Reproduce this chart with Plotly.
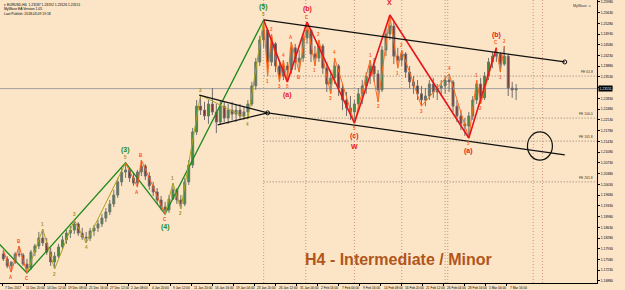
import plotly.graph_objects as go

# ---------------- data ----------------
# 12-hour candles (3 H4 bars each), prices in pips (x 1e-4)
first_open = 11776
high = [11789, 11769, 11750, 11782, 11802, 11779, 11760, 11789, 11809, 11848,
        11857, 11828, 11796, 11782, 11809, 11835, 11854, 11867, 11887, 11880,
        11861, 11848, 11861, 11871, 11887, 11906, 11926, 11952, 11985, 12024,
        12056, 12073, 12056, 12043, 12050, 12082, 12069, 12043, 12011, 11991,
        11965, 11946, 11968, 12007, 11991, 11968, 12024, 12082, 12187, 12278,
        12294, 12272, 12278, 12317, 12265, 12278, 12272, 12265, 12272, 12262,
        12265, 12258, 12278, 12337, 12415, 12487, 12539, 12513, 12493, 12467,
        12408, 12408, 12402, 12467, 12461, 12441, 12493, 12532, 12506, 12454,
        12474, 12461, 12402, 12376, 12415, 12395, 12330, 12304, 12291, 12278,
        12317, 12343, 12369, 12408, 12415, 12376, 12454, 12513, 12555, 12532,
        12448, 12441, 12434, 12389, 12356, 12343, 12324, 12317, 12343, 12350,
        12330, 12343, 12356, 12363, 12343, 12278, 12245, 12219, 12239, 12291,
        12343, 12350, 12369, 12415, 12434, 12448, 12434, 12454, 12428, 12337,
        12330]
low = [11753, 11730, 11717, 11743, 11766, 11737, 11714, 11724, 11769, 11792,
       11802, 11773, 11737, 11727, 11763, 11789, 11809, 11828, 11841, 11835,
       11822, 11812, 11818, 11835, 11848, 11864, 11880, 11903, 11929, 11959,
       11998, 12024, 12011, 11998, 11994, 12030, 12017, 11985, 11965, 11939,
       11919, 11906, 11910, 11952, 11939, 11923, 11932, 12001, 12056, 12164,
       12229, 12213, 12200, 12229, 12170, 12197, 12206, 12200, 12213, 12206,
       12213, 12213, 12216, 12258, 12311, 12389, 12448, 12356, 12389, 12369,
       12337, 12343, 12337, 12363, 12376, 12369, 12402, 12461, 12402, 12389,
       12402, 12363, 12304, 12298, 12330, 12291, 12245, 12226, 12213, 12203,
       12239, 12265, 12298, 12330, 12337, 12272, 12304, 12421, 12474, 12395,
       12382, 12389, 12350, 12317, 12298, 12278, 12258, 12258, 12278, 12285,
       12278, 12291, 12298, 12304, 12239, 12206, 12180, 12161, 12154, 12213,
       12265, 12265, 12278, 12343, 12382, 12402, 12369, 12389, 12291, 12285,
       12278]
close = [11760, 11737, 11750, 11776, 11773, 11743, 11730, 11782, 11802, 11828,
         11812, 11782, 11750, 11769, 11799, 11822, 11844, 11854, 11874, 11844,
         11831, 11828, 11851, 11861, 11874, 11893, 11913, 11939, 11968, 12011,
         12043, 12050, 12024, 12007, 12043, 12063, 12030, 11998, 11978, 11952,
         11929, 11919, 11955, 11985, 11952, 11939, 12011, 12066, 12174, 12258,
         12245, 12226, 12265, 12239, 12206, 12258, 12219, 12245, 12232, 12245,
         12226, 12239, 12265, 12324, 12402, 12474, 12506, 12402, 12461, 12389,
         12356, 12389, 12376, 12448, 12402, 12415, 12480, 12506, 12428, 12415,
         12454, 12382, 12330, 12350, 12389, 12317, 12278, 12252, 12239, 12265,
         12298, 12324, 12356, 12389, 12363, 12311, 12441, 12493, 12519, 12421,
         12408, 12428, 12369, 12337, 12324, 12298, 12278, 12291, 12330, 12304,
         12317, 12324, 12343, 12337, 12258, 12226, 12200, 12193, 12226, 12278,
         12330, 12285, 12356, 12402, 12421, 12428, 12395, 12421, 12317, 12311,
         12315]
last_price = 1.23151

x_labels = ["7 Dec 2017", "11 Dec 20:00", "14 Dec 12:00", "19 Dec 08:00", "21 Dec 16:00",
            "27 Dec 12:00", "2 Jan 08:00", "4 Jan 20:00", "9 Jan 12:00", "11 Jan 20:00",
            "16 Jan 16:00", "19 Jan 04:00", "23 Jan 20:00", "26 Jan 12:00", "31 Jan 00:00",
            "2 Feb 16:00", "7 Feb 04:00", "9 Feb 16:00", "14 Feb 08:00", "16 Feb 20:00",
            "21 Feb 12:00", "26 Feb 04:00", "28 Feb 16:00", "5 Mar 04:00", "7 Mar 16:00"]
bars_per_label = 16
bars_per_candle = 3

# wave paths: (candle index, 'H' high / 'L' low)
green_entry = (-10, 1.1844)
green_path = [(6, 'L'), (31, 'H'), (41, 'L'), (66, 'H')]
olive_paths = [[(6, 'L'), (10, 'H'), (13, 'L'), (18, 'H'), (21, 'L'), (31, 'H')],
               [(41, 'L'), (43, 'H'), (45, 'L'), (50, 'H'), (62, 'L'), (66, 'H')]]
red_small_paths = [[(0, 'H'), (2, 'L'), (4, 'H'), (6, 'L')],
                   [(31, 'H'), (34, 'L'), (35, 'H'), (41, 'L')]]
red_main_path = [(66, 'H'), (72, 'L'), (77, 'H'), (89, 'L'), (98, 'H'), (118, 'L'), (125, 'H')]
orange_paths = [[(66, 'H'), (67, 'L'), (68, 'H'), (70, 'L'), (71, 'H'), (72, 'L')],
                [(72, 'L'), (73, 'H'), (75, 'L'), (77, 'H')],
                [(77, 'H'), (79, 'L'), (80, 'H'), (83, 'L'), (84, 'H'), (89, 'L')],
                [(89, 'L'), (93, 'H'), (95, 'L'), (98, 'H')],
                [(98, 'H'), (100, 'L'), (101, 'H'), (106, 'L'), (113, 'H'), (118, 'L')],
                [(118, 'L'), (120, 'H'), (121, 'L'), (125, 'H'), (126, 'L'), (127, 'H')]]

# labels: (candle, side, text)
olive_labels = [(10, 'H', '1'), (13, 'L', '2'), (18, 'H', '3'), (21, 'L', '4'), (31, 'H', '5'),
                (43, 'H', '1'), (45, 'L', '2'), (50, 'H', '3'), (62, 'L', '4'), (66, 'H', '5')]
red_small_labels = [(2, 'L', 'A'), (4, 'H', 'B'), (6, 'L', 'C'),
                    (34, 'L', 'A'), (35, 'H', 'B'), (41, 'L', 'C')]
green_labels = [(31, 'H', '(3)'), (41, 'L', '(4)'), (66, 'H', '(5)')]
red_main_labels = [(72, 'L', '(a)'), (77, 'H', '(b)'), (89, 'L', '(c)'), (98, 'H', 'X'),
                   (118, 'L', '(a)'), (125, 'H', '(b)')]
orange_labels = [(67, 'L', '1'), (68, 'H', '2'), (70, 'L', '3'), (71, 'H', '4'), (72, 'L', '5'),
                 (73, 'H', 'A'), (75, 'L', 'B'), (77, 'H', 'C'),
                 (79, 'L', '1'), (80, 'H', '2'), (83, 'L', '3'), (84, 'H', '4'), (89, 'L', '5'),
                 (93, 'H', '1'), (95, 'L', '2'),
                 (100, 'L', '1'), (101, 'H', '2'), (106, 'L', '3'), (113, 'H', '4'), (118, 'L', '5'),
                 (120, 'H', '1'), (121, 'L', '2'), (125, 'H', 'C'), (126, 'L', '1'), (127, 'H', '2')]

# trend lines (bar index, price)
upper_channel_t, upper_channel_p = [199, 428], [1.2539, 1.2402]
lower_channel_t, lower_channel_p = [202, 428], [1.2236, 1.2099]
tri_upper_t, tri_upper_p = [150, 202], [1.2294, 1.2236]
tri_lower_t, tri_lower_p = [164, 202], [1.2197, 1.2236]

# Fibonacci expansion levels and time lines
fe_start = 199
fe_levels = [1.2356, 1.2219, 1.2144, 1.2011]
fe_names = ["FE 61.8", "FE 100.0", "FE 161.8", "FE 261.8"]
time_lines = [199, 231, 268, 304, 337, 339, 404, 411]
target_zone = dict(t0=399.6, t1=418.6, p0=1.2082, p1=1.2174)

# ---------------- figure ----------------
BG = '#FCE5C6'
FONT = 'Liberation Sans, Arial, sans-serif'
X_MIN, X_MAX = -1.52, 452.5
Y_MIN, Y_MAX = 1.16814, 1.2604

n = len(close)
xs = [bars_per_candle * k + 1 for k in range(n)]
opens = [first_open] + close[:-1]

fig = go.Figure()

# horizontal fib lines
for lvl, name in zip(fe_levels, fe_names):
    fig.add_shape(type='line', x0=fe_start, x1=X_MAX, y0=lvl, y1=lvl,
                  line=dict(color='#8a7d70', width=1, dash='1px,2px'), layer='below')
    fig.add_annotation(x=X_MAX - 1.5, y=lvl, text=name, showarrow=False, xanchor='right',
                       yanchor='bottom', font=dict(family=FONT, size=3.4, color='#333'))
# vertical time lines
for t in time_lines:
    fig.add_shape(type='line', x0=t, x1=t, y0=0, y1=1, yref='paper',
                  line=dict(color='#cf9575', width=1, dash='1px,2px'), layer='below')
# current price line
fig.add_shape(type='line', x0=X_MIN, x1=X_MAX, y0=last_price, y1=last_price,
              line=dict(color='#a0a0a0', width=1), layer='below')

fig.add_trace(go.Candlestick(
    x=xs, open=[v / 1e4 for v in opens], high=[v / 1e4 for v in high],
    low=[v / 1e4 for v in low], close=[v / 1e4 for v in close],
    increasing=dict(line=dict(color='#6d746d', width=1), fillcolor='#3d8f3d'),
    decreasing=dict(line=dict(color='#746a6a', width=1), fillcolor='#7c2c2c'),
    whiskerwidth=0, hoverinfo='skip', showlegend=False))


def pt(p):
    k, side = p
    return bars_per_candle * k + 1, (high[k] if side == 'H' else low[k]) / 1e4


def add_path(path, color, width, pre=None):
    pts = [pt(p) for p in path]
    if pre:
        pts = [pre] + pts
    fig.add_trace(go.Scatter(x=[a for a, b in pts], y=[b for a, b in pts], mode='lines',
                             line=dict(color=color, width=width), hoverinfo='skip',
                             showlegend=False))


add_path(green_path, '#1e8a1e', 1.3, pre=green_entry)
for pth in olive_paths:
    add_path(pth, '#a9a21f', 1)
for pth in red_small_paths:
    add_path(pth, '#ff5a1f', 1)
for pth in orange_paths:
    add_path(pth, '#ff6a1a', 1)
add_path(red_main_path, '#e8161b', 1.6)

for tt, pp in [(upper_channel_t, upper_channel_p), (lower_channel_t, lower_channel_p),
               (tri_upper_t, tri_upper_p), (tri_lower_t, tri_lower_p)]:
    fig.add_trace(go.Scatter(x=tt, y=pp, mode='lines', line=dict(color='#111', width=1.2),
                             hoverinfo='skip', showlegend=False))
fig.add_trace(go.Scatter(x=[tri_upper_t[-1], upper_channel_t[-1]],
                         y=[tri_upper_p[-1], upper_channel_p[-1]], mode='markers',
                         marker=dict(symbol='circle-open', size=4, color='#111', line=dict(width=1)),
                         hoverinfo='skip', showlegend=False))

fig.add_shape(type='circle', x0=target_zone['t0'], x1=target_zone['t1'],
              y0=target_zone['p0'], y1=target_zone['p1'], line=dict(color='#111', width=1.2))


def add_labels(labels, color, size, shift, bold=False):
    for k, side, txt in labels:
        x, y = pt((k, side))
        fig.add_annotation(x=x, y=y, text=('<b>%s</b>' % txt) if bold else txt, showarrow=False,
                           yshift=shift if side == 'H' else -shift,
                           font=dict(family=FONT, size=size, color=color))


add_labels(olive_labels, '#9a9020', 4.5, 5, True)
add_labels(red_small_labels, '#ff4a1a', 4.5, 5, True)
add_labels(orange_labels, '#ff5a1a', 4.5, 5, True)
add_labels(green_labels, '#1e8a1e', 7, 13, True)
add_labels(red_main_labels, '#e8161b', 7, 13, True)
kx, ky = pt((89, 'L'))
fig.add_annotation(x=kx, y=ky, text='<b>W</b>', showarrow=False, yshift=-23,
                   font=dict(family=FONT, size=7, color='#e8161b'))

# x-axis labels (MT4 style, left aligned at tick)
for i, lab in enumerate(x_labels):
    fig.add_annotation(x=i * bars_per_label, y=0, yref='paper', text=lab, showarrow=False,
                       xanchor='left', yanchor='top', yshift=-0.5, xshift=1,
                       font=dict(family=FONT, size=3.2, color='#000'))

# info text
fig.add_annotation(x=0.004, y=1, xref='paper', yref='paper', xanchor='left', yanchor='top',
                   align='left', showarrow=False, yshift=-1,
                   text='▾ EURUSD,H4  1.23187 1.23192 1.23126 1.23151<br>MyWave EA Version 1.05<br>Last Publish: 2018.03.09 19:18',
                   font=dict(family=FONT, size=3.4, color='#000'))
fig.add_annotation(x=0.995, y=1, xref='paper', yref='paper', xanchor='right', yanchor='top',
                   showarrow=False, yshift=-2, text='MyWave ☺',
                   font=dict(family=FONT, size=3.6, color='#333'))
fig.add_annotation(x=1, y=last_price, xref='paper', xanchor='left', showarrow=False,
                   text='1.23151', bgcolor='#000', borderpad=0.5, xshift=1,
                   font=dict(family=FONT, size=3.4, color='#fff'))
fig.add_annotation(x=494 / 597, y=13 / 283, xref='paper', yref='paper', showarrow=False,
                   text='<b>H4 - Intermediate / Minor</b>',
                   font=dict(family=FONT, size=16, color='#b0561c'))

fig.update_layout(
    width=625, height=290, margin=dict(l=0, r=28, t=0, b=7),
    paper_bgcolor=BG, plot_bgcolor=BG, showlegend=False,
    xaxis=dict(range=[X_MIN, X_MAX], showgrid=False, zeroline=False, showline=True,
               linecolor='#000', linewidth=1, ticks='outside', ticklen=2, tickcolor='#000',
               tickvals=[i * bars_per_label for i in range(len(x_labels))],
               showticklabels=False, rangeslider=dict(visible=False), fixedrange=True),
    yaxis=dict(range=[Y_MIN, Y_MAX], side='right', showgrid=False, zeroline=False,
               showline=True, linecolor='#000', linewidth=1, ticks='outside', ticklen=2,
               tickcolor='#000', tick0=1.2598, dtick=0.0035, tickformat='.5f',
               tickfont=dict(family=FONT, size=3.4, color='#000'), fixedrange=True),
)

fig.write_html("out.html")
